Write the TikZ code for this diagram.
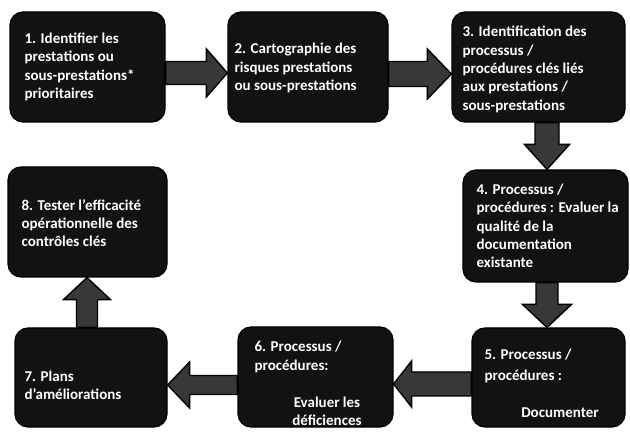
\documentclass[tikz,border=0pt]{standalone}
\usepackage{fontspec}
\setmainfont{Carlito}
\usetikzlibrary{calc,backgrounds}

% horizontal block arrow: start, end, shaft half-width, head half-width, signed head length
\newcommand{\harrow}[5]{%
  \filldraw[blockarrow] let \p1=(#1), \p2=(#2), \n1={\x2-(#5)} in
    (\x1,\y1+#3) -- (\n1,\y1+#3) -- (\n1,\y1+#4) -- (\x2,\y1)
    -- (\n1,\y1-#4) -- (\n1,\y1-#3) -- (\x1,\y1-#3) -- cycle;}
% vertical block arrow: start, end, shaft half-width, head half-width, signed head length
\newcommand{\varrow}[5]{%
  \filldraw[blockarrow] let \p1=(#1), \p2=(#2), \n1={\y2-(#5)} in
    (\x1+#3,\y1) -- (\x1+#3,\n1) -- (\x1+#4,\n1) -- (\x1,\y2)
    -- (\x1-#4,\n1) -- (\x1-#3,\n1) -- (\x1-#3,\y1) -- cycle;}

\begin{document}
\begin{tikzpicture}[x=1pt,y=1pt,
  box/.style={draw=black, line width=1.2pt, fill=black!93, rounded corners=13pt, inner sep=0pt},
  lbl/.style={text=white, font=\fontsize{15}{18.3}\selectfont\bfseries, align=left, inner sep=0pt},
  blockarrow/.style={fill=black!78, draw=black, line width=1.4pt, line join=miter}]

\useasboundingbox (0,0) rectangle (630,437);

% process steps
\node[box, minimum width=155pt, minimum height=110pt] (b1) at (87.5,370) {};
\node[box, minimum width=160pt, minimum height=110pt] (b2) at (308,370) {};
\node[box, minimum width=173pt, minimum height=110pt] (b3) at (538.5,370) {};
\node[box, minimum width=165pt, minimum height=112pt] (b4) at (545.5,211) {};
\node[box, minimum width=153pt, minimum height=99pt]  (b5) at (548.5,59.5) {};
\node[box, minimum width=155pt, minimum height=100pt] (b6) at (315.5,60) {};
\node[box, minimum width=152pt, minimum height=99pt]  (b7) at (91,59.5) {};
\node[box, minimum width=159pt, minimum height=110pt] (b8) at (87.5,215) {};

% step texts
\node[lbl, anchor=west] (t1) at ([xshift=15pt]b1.west)
  {1. Identifier les\\prestations ou\\sous-prestations*\\prioritaires};
\node[lbl, anchor=west] (t2) at ([xshift=7pt,yshift=-1pt]b2.west)
  {2. Cartographie des\\risques prestations\\ou sous-prestations};
\node[lbl, anchor=west] (t3) at ([xshift=11pt,yshift=-2.5pt]b3.west)
  {3. Identification des\\processus /\\procédures clés liés\\aux prestations /\\sous-prestations};
\node[lbl, anchor=west] (t4) at ([xshift=14pt]b4.west)
  {4. Processus /\\procédures : Evaluer la\\qualité de la\\documentation\\existante};
\node[lbl, anchor=west] (t5) at ([xshift=13pt,yshift=11.5pt]b5.west)
  {5. Processus /\\[3pt]procédures :};
\node[lbl] (t5b) at (560,24) {Documenter};
\node[lbl, anchor=west] (t6) at ([xshift=17pt,yshift=20pt]b6.west)
  {6. Processus /\\[1pt]procédures:};
\node[lbl, align=center] (t6b) at (327,25.5) {Evaluer les\\déficiences};
\node[lbl, anchor=west] (t7) at ([xshift=10pt,yshift=-7.5pt]b7.west)
  {7. Plans\\d'améliorations};
\node[lbl, anchor=west] (t8) at ([xshift=14pt,yshift=-1pt]b8.west)
  {8. Tester l'efficacité\\opérationnelle des\\contrôles clés};

% connectors
\coordinate (s12) at ([yshift=-6pt]b1.east);
\coordinate (s23) at ([yshift=-7pt]b2.east);
\coordinate (s34) at ([xshift=8.5pt]b3.south);
\coordinate (s45) at ([xshift=1.5pt]b4.south);
\coordinate (s56) at ([yshift=-6.5pt]b5.west);
\coordinate (s67) at ([yshift=-8pt]b6.west);
\coordinate (s78) at ([xshift=-4pt]b7.north);

\begin{scope}[on background layer]
  \harrow{s12}{b2.west |- s12}{11.5pt}{24pt}{21pt}
  \harrow{s23}{b3.west |- s23}{12.5pt}{25pt}{24pt}
  \varrow{s34}{s34 |- b4.north}{12pt}{22.5pt}{-25pt}
  \varrow{s45}{s45 |- b5.north}{11pt}{24.5pt}{-23pt}
  \harrow{s56}{b6.east |- s56}{12pt}{23pt}{-18pt}
  \harrow{s67}{b7.east |- s67}{9.5pt}{23pt}{-22pt}
  \varrow{s78}{s78 |- b8.south}{10.5pt}{23.5pt}{22pt}
\end{scope}
\end{tikzpicture}
\end{document}
